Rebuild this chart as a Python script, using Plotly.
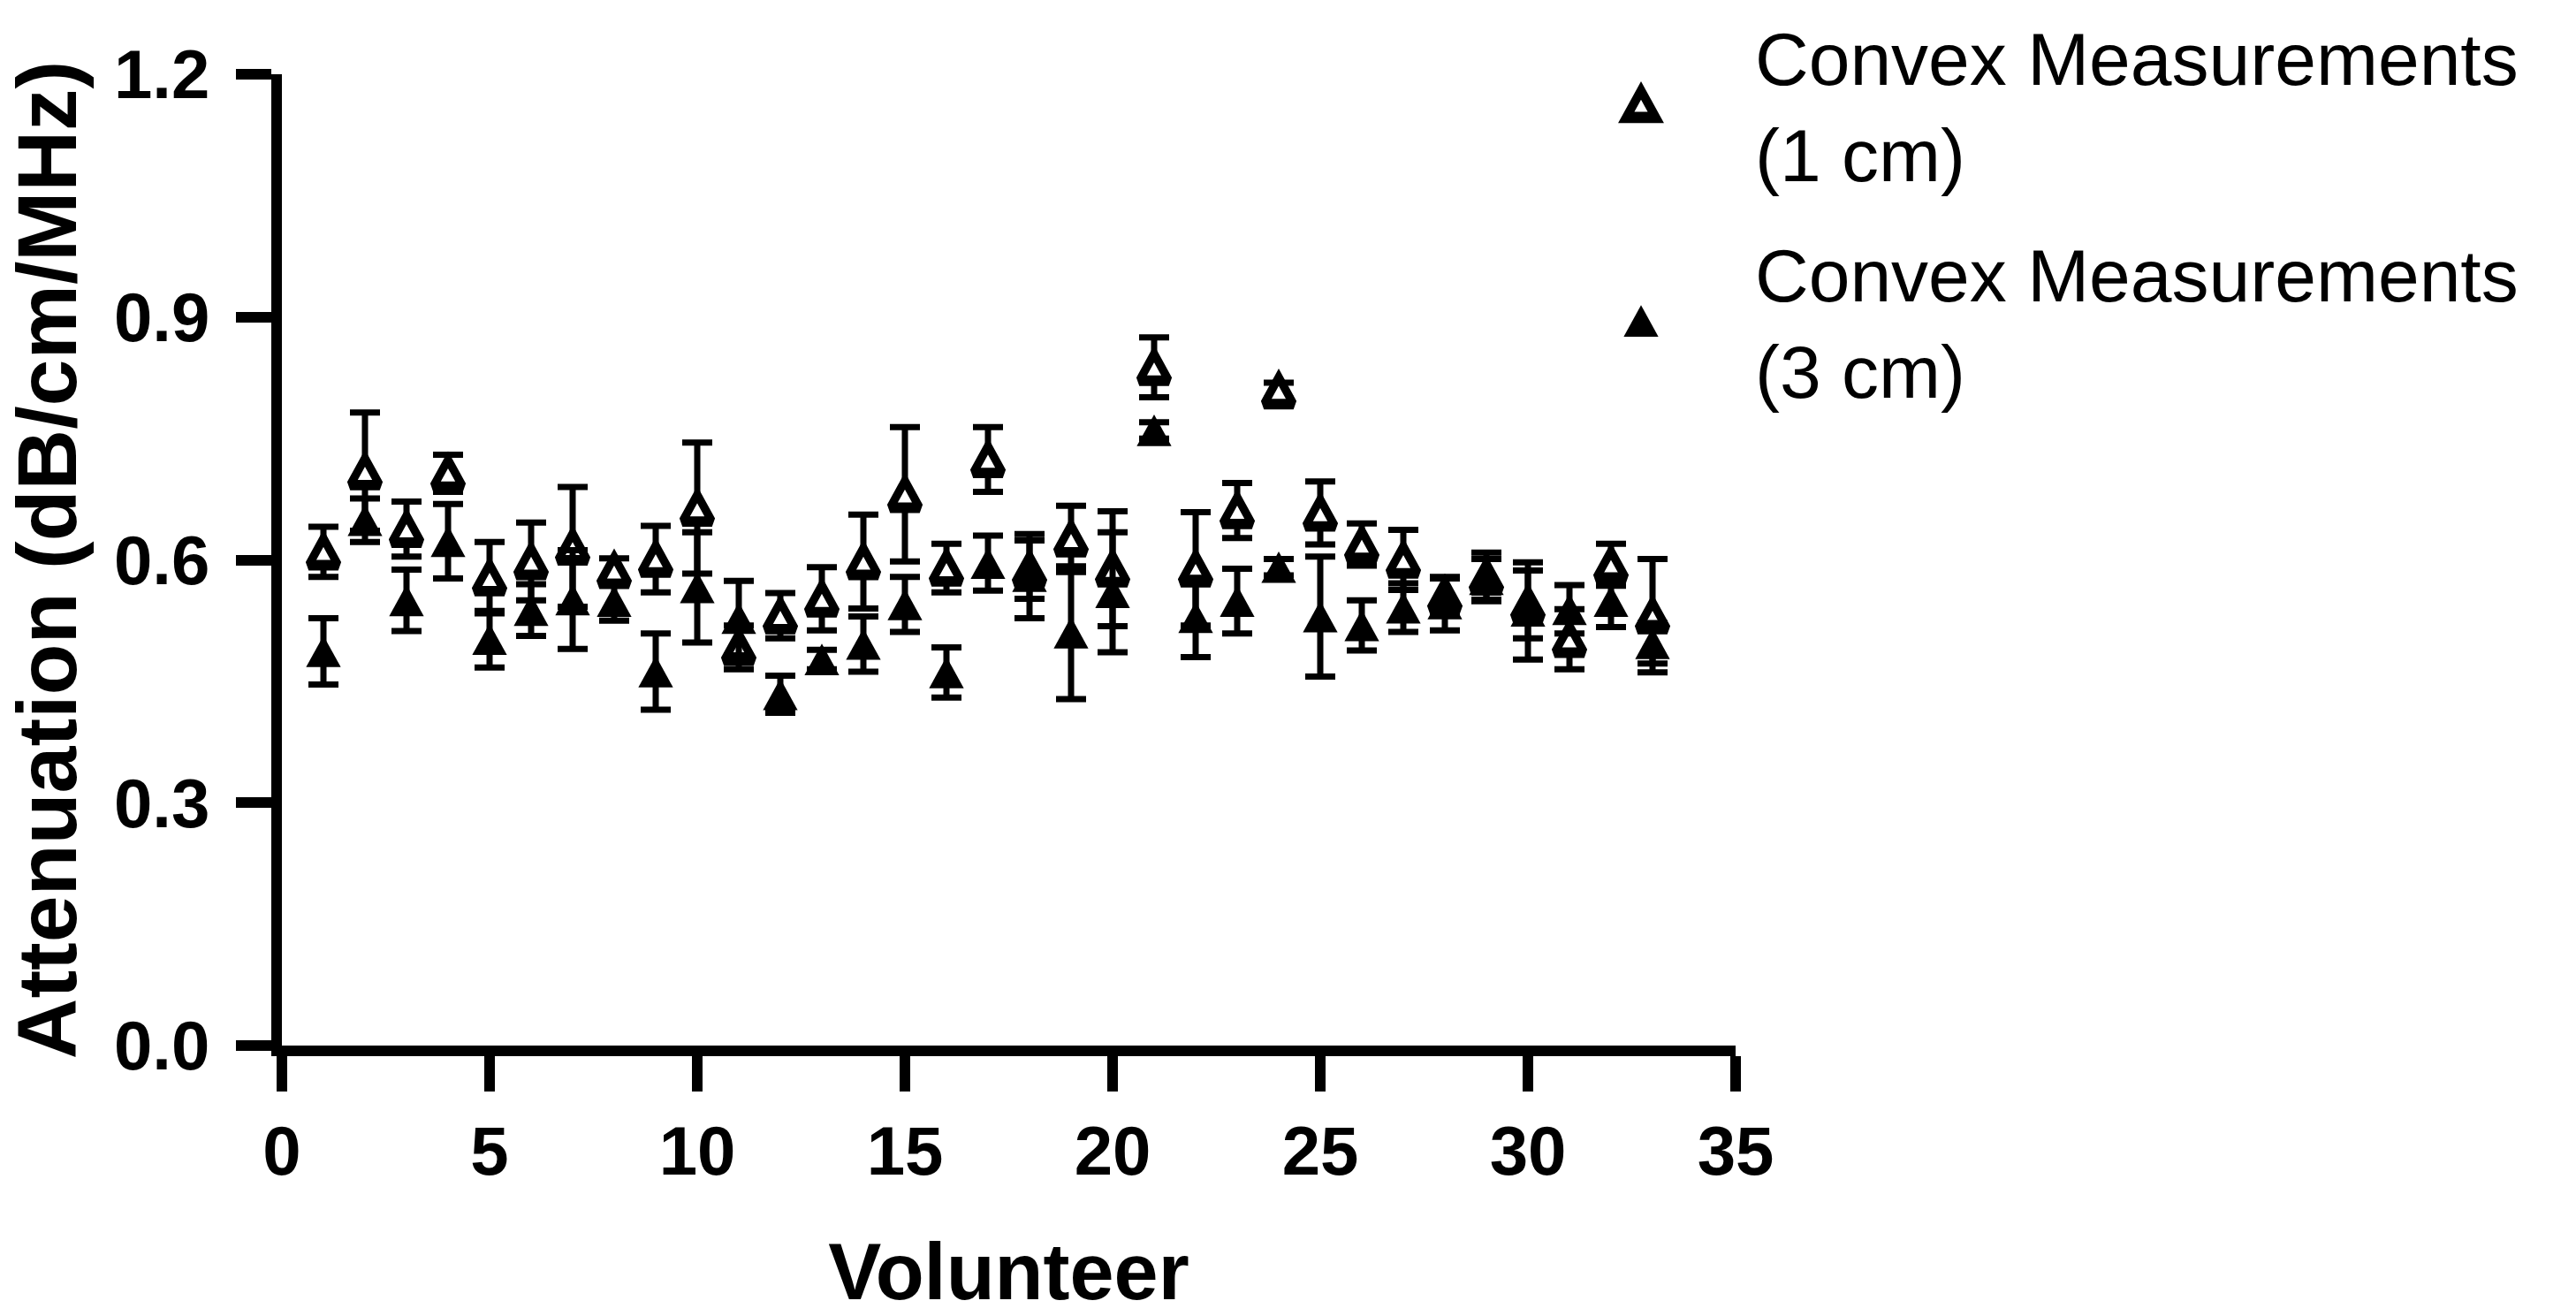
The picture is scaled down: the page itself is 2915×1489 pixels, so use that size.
import plotly.graph_objects as go

# ---- data ----
volunteers = list(range(1, 34))

convex_1cm_mean = [0.610, 0.709, 0.638, 0.707, 0.578, 0.598, 0.616, 0.587, 0.601, 0.664,
                   0.492, 0.531, 0.552, 0.598, 0.681, 0.590, 0.724, 0.588, 0.626, 0.589,
                   0.838, 0.589, 0.661, 0.809, 0.658, 0.619, 0.600, 0.556, 0.579, 0.545,
                   0.502, 0.594, 0.531]
convex_1cm_sd = [0.031, 0.073, 0.034, 0.023, 0.044, 0.048, 0.074, 0.015, 0.041, 0.081,
                 0.027, 0.028, 0.039, 0.058, 0.083, 0.030, 0.040, 0.036, 0.041, 0.071,
                 0.037, 0.070, 0.034, 0.010, 0.039, 0.026, 0.037, 0.021, 0.030, 0.042,
                 0.037, 0.026, 0.070]

convex_3cm_mean = [0.487, 0.649, 0.550, 0.623, 0.502, 0.538, 0.551, 0.549, 0.462, 0.566,
                   0.528, 0.434, 0.477, 0.496, 0.545, 0.461, 0.596, 0.580, 0.510, 0.560,
                   0.760, 0.529, 0.549, 0.591, 0.530, 0.519, 0.541, 0.546, 0.576, 0.537,
                   0.539, 0.549, 0.497]
convex_3cm_sd = [0.041, 0.027, 0.038, 0.046, 0.035, 0.032, 0.061, 0.024, 0.047, 0.068,
                 0.046, 0.023, 0.012, 0.034, 0.034, 0.031, 0.034, 0.052, 0.082, 0.074,
                 0.010, 0.049, 0.040, 0.010, 0.074, 0.031, 0.030, 0.033, 0.025, 0.060,
                 0.030, 0.032, 0.025]

series_names = ["Convex Measurements<br>(1 cm)", "Convex Measurements<br>(3 cm)"]
x_ticks = [0, 5, 10, 15, 20, 25, 30, 35]
y_ticks = [0.0, 0.3, 0.6, 0.9, 1.2]

FONT = "Liberation Sans, Arial, sans-serif"
OPEN_SIZE, FILLED_SIZE = 29, 34

fig = go.Figure()
fig.add_trace(go.Scatter(
    x=volunteers, y=convex_1cm_mean, mode="markers", name=series_names[0],
    legendgroup="a",
    marker=dict(symbol="triangle-up", size=OPEN_SIZE, color="white",
                line=dict(color="black", width=8.5)),
    error_y=dict(type="data", array=convex_1cm_sd, visible=True,
                 color="black", thickness=7, width=17),
))
fig.add_trace(go.Scatter(
    x=volunteers, y=convex_3cm_mean, mode="markers", name=series_names[1],
    legendgroup="b",
    marker=dict(symbol="triangle-up", size=FILLED_SIZE, color="black",
                line=dict(color="black", width=0)),
    error_y=dict(type="data", array=convex_3cm_sd, visible=True,
                 color="black", thickness=7, width=17),
))

fig.update_layout(
    width=2915, height=1489,
    margin=dict(l=319, r=951, t=84, b=306, pad=0, autoexpand=False),
    paper_bgcolor="white", plot_bgcolor="white",
    font=dict(family=FONT, color="black"),
    showlegend=True,
    legend=dict(
        xref="container", yref="container",
        x=1728 / 2915, y=1 - 2 / 1489, xanchor="left", yanchor="top",
        font=dict(family=FONT, size=84, color="black"),
        itemwidth=248, tracegroupgap=24,
        bgcolor="rgba(0,0,0,0)", borderwidth=0,
        valign="middle",
    ),
)

fig.update_xaxes(
    range=[0, 35], tickvals=x_ticks, ticktext=[str(v) for v in x_ticks],
    showline=True, linecolor="black", linewidth=12,
    ticks="outside", ticklen=40, tickwidth=12, tickcolor="black",
    showgrid=False, zeroline=False,
    tickfont=dict(family=FONT, size=78, color="black", weight="bold"),
    ticklabelstandoff=0,
    title=dict(text="Volunteer", standoff=70,
               font=dict(family=FONT, size=90, color="black", weight="bold")),
)
fig.update_yaxes(
    range=[0, 1.2], tickvals=y_ticks, ticktext=[f"{v:.1f}" for v in y_ticks],
    showline=True, linecolor="black", linewidth=12,
    ticks="outside", ticklen=40, tickwidth=12, tickcolor="black",
    showgrid=False, zeroline=False,
    tickfont=dict(family=FONT, size=78, color="black", weight="bold"),
    ticklabelstandoff=14,
    title=dict(text="Attenuation (dB/cm/MHz)", standoff=38,
               font=dict(family=FONT, size=95, color="black", weight="bold")),
)

# Stretch the triangle symbols vertically so they are close to equilateral
# (as in the reference), and enlarge the legend symbols (plotly caps them at 16px).
post_js = """
document.body.style.margin='0';
document.body.style.overflow='hidden';
var gd = document.getElementById('{plot_id}');
var SY = 1.4;
var K = [%f/16, %f/16];
function fixMarkers(){
  try {
    gd.querySelectorAll('.scatterlayer path.point').forEach(function(p){
      var t = p.getAttribute('transform') || '';
      if (t.indexOf('scale') >= 0) return;
      var bb = p.getBBox(); var cy = bb.y + bb.height/2;
      p.setAttribute('transform', t + ' scale(1,' + SY + ') translate(0,' + (-cy) + ')');
    });
    gd.querySelectorAll('.legend g.traces').forEach(function(g, i){
      g.querySelectorAll('g.legendpoints path.scatterpts').forEach(function(p){
        var t = p.getAttribute('transform') || '';
        if (t.indexOf('scale') >= 0) return;
        var bb = p.getBBox(); var cy = bb.y + bb.height/2; var k = K[i] || 1;
        p.setAttribute('transform', t + ' scale(' + k + ',' + (k*SY) + ') translate(0,' + (-cy) + ')');
      });
    });
  } catch(e) { console.log(e); }
}
fixMarkers();
if (gd.on) { gd.on('plotly_afterplot', fixMarkers); }
setTimeout(fixMarkers, 300);
setTimeout(fixMarkers, 1000);
""" % (OPEN_SIZE, FILLED_SIZE)

fig.write_html("out.html", post_script=post_js, config={"displayModeBar": False})
